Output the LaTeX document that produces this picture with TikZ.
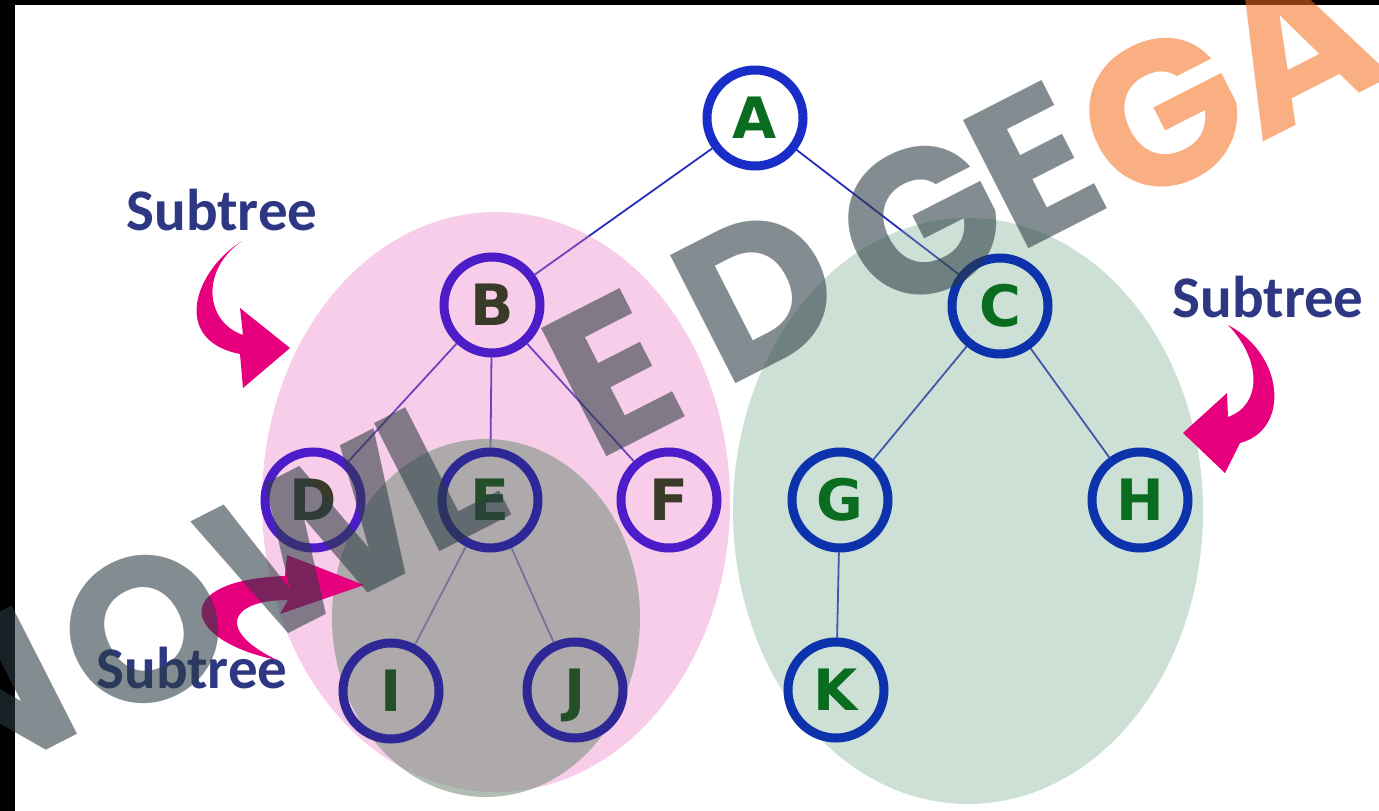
\documentclass[tikz,border=0pt]{standalone}
\usepackage{fontspec}
\setmainfont{DejaVu Sans}
\newfontfamily\nodefont{DejaVu Sans}
\newfontfamily\subfont{Carlito}
\newfontfamily\wmfont{Poppins}
\definecolor{ringA}{RGB}{25,45,200}
\definecolor{ringG}{RGB}{12,50,172}
\definecolor{ringP}{RGB}{75,28,200}
\definecolor{ringD}{RGB}{45,40,150}
\definecolor{letG}{RGB}{10,108,30}
\definecolor{letP}{RGB}{58,58,40}
\definecolor{letD}{RGB}{35,80,40}
\definecolor{edgeblue}{RGB}{40,45,190}
\definecolor{pinkE}{RGB}{235,112,192}
\definecolor{greenE}{RGB}{112,169,135}
\definecolor{grayE}{RGB}{126,147,131}
\definecolor{subcol}{RGB}{45,55,130}
\definecolor{magentaA}{RGB}{230,0,125}
\definecolor{wmgray}{RGB}{43,60,67}
\definecolor{wmorange}{RGB}{246,110,28}
\pgfdeclarelayer{back}
\pgfdeclarelayer{edges}
\pgfdeclarelayer{ellip}
\pgfdeclarelayer{front}
\pgfsetlayers{back,edges,ellip,main,front}
\begin{document}
\begin{tikzpicture}[x=1pt,y=-1pt,
  tnode/.style={circle, minimum size=96pt, inner sep=0pt, line width=9pt,
    font=\nodefont\bfseries\fontsize{57}{57}\selectfont, text height=41pt, text depth=0pt},
  nA/.style={tnode, draw=ringA, text=letG},
  nG/.style={tnode, draw=ringG, text=letG},
  nP/.style={tnode, draw=ringP, text=letP},
  nD/.style={tnode, draw=ringD, text=letD},
  edge/.style={draw=edgeblue, line width=1.8pt},
  sublabel/.style={font=\subfont\bfseries\fontsize{59}{60}\selectfont, text=subcol, inner sep=0pt},
  wm/.style={font=\wmfont\bfseries\fontsize{205}{205}\selectfont, rotate=27, inner sep=0pt,
    text height=143pt, text depth=0pt, text=wmgray, text opacity=0.58},
  wmo/.style={wm, text=wmorange, text opacity=0.55},
  curlarrow/.style={fill=magentaA}
]
\useasboundingbox (0,0) rectangle (1379,811);
\clip (0,0) rectangle (1379,811);
\begin{pgfonlayer}{back}
  \fill[white] (0,0) rectangle (1379,811);
  \fill[black] (0,0) rectangle (1379,5);
  \fill[black] (0,0) rectangle (15,811);
\end{pgfonlayer}

% tree nodes
\node[nA] (A) at (755,118) {A};
\node[nP] (B) at (492,305) {B};
\node[nG] (C) at (1000,306) {C};
\node[nP] (D) at (313,500) {D};
\node[nD] (E) at (490,500) {E};
\node[nP] (F) at (669,500) {F};
\node[nG] (G) at (840,500) {G};
\node[nG] (H) at (1140,500) {H};
\node[nD] (I) at (391,691) {I};
\node[nD] (J) at (575,690) {J};
\node[nG] (K) at (836,690) {K};

\begin{pgfonlayer}{edges}
  \draw[edge] (A) -- (B);
  \draw[edge] (A) -- (C);
  \draw[edge] (B) -- (D);
  \draw[edge] (B) -- (E);
  \draw[edge] (B) -- (F);
  \draw[edge] (C) -- (G);
  \draw[edge] (C) -- (H);
  \draw[edge] (E) -- (I);
  \draw[edge] (E) -- (J);
  \draw[edge] (G) -- (K);
\end{pgfonlayer}

\begin{pgfonlayer}{ellip}
  \fill[pinkE, opacity=0.35] (496,502) ellipse [x radius=234pt, y radius=290pt];
  \fill[grayE, opacity=0.6] (486,618) ellipse [x radius=154pt, y radius=179pt];
  \fill[greenE, opacity=0.35] (968,511) ellipse [x radius=235pt, y radius=293pt];
\end{pgfonlayer}

% labels
\node[sublabel] (s1) at (222,210) {Subtree};
\node[sublabel] (s2) at (1268,297) {Subtree};
\node[sublabel] (s3) at (192,668) {Subtree};

% curved arrows
\fill[curlarrow] (242,241) .. controls (195,270) and (170,340) .. (240,354) -- (243,388) -- (290,348) -- (240,308) -- (243,335) .. controls (205,322) and (200,270) .. (242,241) -- cycle;
\fill[curlarrow] (1228,325) .. controls (1285,355) and (1290,430) .. (1240,443) -- (1225,473) -- (1183,433) -- (1227,393) -- (1228,417) .. controls (1262,405) and (1262,360) .. (1228,325) -- cycle;
\fill[curlarrow] (277,660) .. controls (180,640) and (170,580) .. (285,576) -- (287,555) -- (364,585) -- (280,614) -- (288,600) .. controls (230,600) and (215,630) .. (277,660) -- cycle;

% watermark
\begin{pgfonlayer}{front}
  \node[wm] (w1) at (-12,700) {N};
  \node[wm] (w2) at (145,630) {O};
  \node[wm] (w3) at (315,540) {W};
  \node[wm] (w4) at (440,472) {L};
  \node[wm] (w5) at (612,374) {E};
  \node[wm] (w6) at (758,292) {D};
  \node[wm] (w7) at (922,222) {G};
  \node[wm] (w8) at (1034,166) {E};
  \node[wmo] (w9) at (1163,114) {G};
  \node[wmo] (w10) at (1295,45) {A};
\end{pgfonlayer}
\end{tikzpicture}
\end{document}
